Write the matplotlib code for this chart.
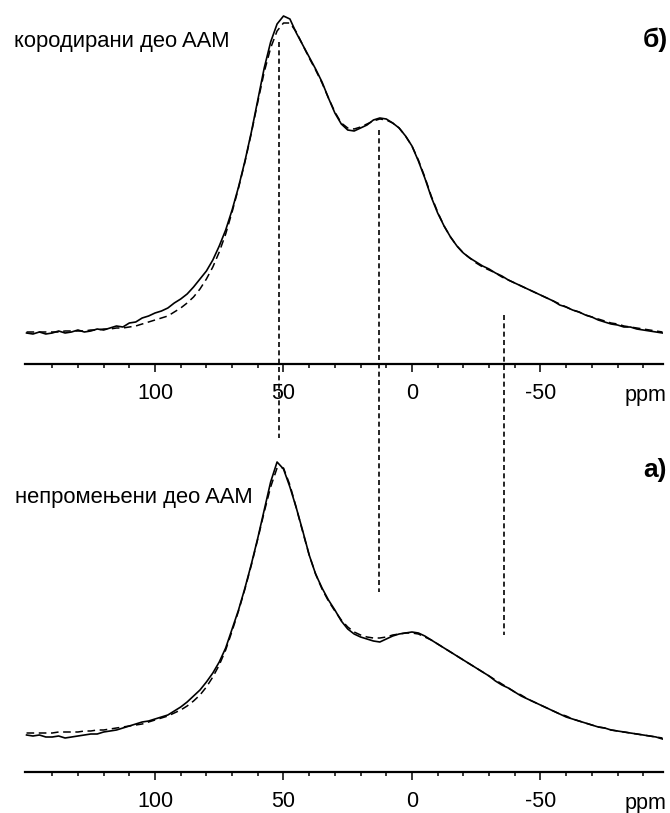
import numpy as np
import matplotlib
matplotlib.use("Agg")
import matplotlib.pyplot as plt
from matplotlib import transforms

plt.rcParams['font.family'] = ['Liberation Sans', 'DejaVu Sans']

# chemical shift grid (ppm), 150 -> -97.5 in 2.5 ppm steps
ppm = np.arange(150, -100, -2.5)

# top panel (б) corroded part: experimental (solid) and fitted (dashed), a.u.
top_exp = [31, 30, 32, 30, 31, 33, 31, 32, 34, 32, 33, 35, 34, 36, 38, 37, 41, 42, 46, 48,
           51, 53, 56, 61, 65, 70, 77, 85, 93, 104, 118, 134, 154, 177, 203, 232, 264, 296, 322, 340,
           348, 345, 331, 319, 307, 295, 282, 266, 251, 240, 234, 233, 236, 239, 244, 246, 245, 241, 236, 228,
           218, 203, 186, 167, 151, 138, 127, 118, 111, 106, 102, 98, 95, 91, 88, 84, 81, 78, 75, 72,
           69, 66, 63, 59, 57, 54, 52, 49, 47, 44, 42, 40, 39, 37, 37, 35, 34, 33, 32, 31]
top_fit = [32, 32, 32, 32, 32, 32, 33, 33, 33, 33, 34, 34, 35, 35, 36, 36, 37, 38, 40, 42,
           44, 46, 48, 52, 56, 61, 67, 75, 85, 97, 112, 130, 152, 176, 202, 231, 262, 292, 316, 333,
           341, 341, 332, 319, 306, 294, 281, 266, 252, 241, 236, 235, 237, 240, 243, 245, 244, 241, 236, 228,
           218, 204, 187, 168, 152, 138, 127, 118, 111, 106, 101, 97, 94, 91, 87, 84, 81, 78, 75, 72,
           69, 66, 63, 60, 57, 54, 52, 49, 47, 45, 43, 41, 40, 38, 37, 36, 35, 34, 33, 32]

# bottom panel (а) unaltered part: experimental (solid) and fitted (dashed), a.u.
bot_exp = [37, 36, 37, 35, 35, 36, 34, 35, 36, 37, 38, 38, 40, 41, 42, 44, 46, 48, 50, 51,
           53, 55, 57, 61, 65, 70, 76, 82, 90, 99, 110, 124, 143, 162, 184, 208, 234, 262, 290, 310,
           303, 285, 264, 241, 217, 198, 184, 172, 162, 151, 143, 138, 135, 133, 131, 130, 133, 136, 138, 139,
           140, 139, 136, 132, 128, 124, 120, 116, 112, 108, 104, 100, 96, 91, 87, 84, 80, 76, 73, 70,
           67, 64, 61, 58, 55, 53, 51, 49, 47, 45, 44, 42, 41, 40, 39, 38, 37, 36, 35, 33]
bot_fit = [39, 39, 39, 39, 39, 40, 40, 40, 40, 41, 41, 42, 42, 43, 44, 45, 46, 47, 48, 50,
           52, 54, 56, 59, 62, 66, 71, 77, 85, 95, 107, 122, 141, 161, 183, 207, 233, 260, 285, 304,
           304, 287, 264, 240, 217, 198, 183, 171, 161, 152, 145, 140, 137, 135, 134, 134, 135, 137, 138, 139,
           139, 138, 135, 132, 128, 124, 120, 116, 112, 108, 104, 100, 96, 92, 88, 84, 80, 77, 73, 70,
           67, 64, 61, 58, 56, 53, 51, 49, 47, 45, 44, 42, 41, 40, 39, 38, 37, 36, 35, 34]

# marker shifts (ppm)
marker_ppm = [51.7, 12.8, -36.0]

major_ticks = [100, 50, 0, -50]
minor_ticks = [140, 130, 120, 110, 90, 80, 70, 60, 40, 30, 20, 10, -10, -20, -30, -40, -60, -70, -80, -90]
panel_titles = ["кородирани део AAM", "непромењени део AAM"]
panel_letters = ["б)", "а)"]

W, H = 670, 813
fig = plt.figure(figsize=(W / 100, H / 100), dpi=100)

def px_axes(x0, x1, ytop, ybot):
    return fig.add_axes([x0 / W, 1 - ybot / H, (x1 - x0) / W, (ybot - ytop) / H])

ax_top = px_axes(25, 663, 0, 364)
ax_bot = px_axes(25, 663, 420, 772)

for ax, exp, fit in [(ax_top, top_exp, top_fit), (ax_bot, bot_exp, bot_fit)]:
    ax.plot(ppm, exp, color='black', lw=1.2, solid_joinstyle='round')
    ax.plot(ppm, fit, color='black', lw=1.1, ls=(0, (5, 3)))
    ax.set_xlim(150.6, -97.7)
    bb = ax.get_position()
    ax.set_ylim(0, bb.height * H)
    for s in ['top', 'left', 'right']:
        ax.spines[s].set_visible(False)
    ax.spines['bottom'].set_linewidth(1.6)
    ax.set_yticks([])
    ax.set_xticks(major_ticks)
    ax.set_xticks(minor_ticks, minor=True)
    ax.set_xticklabels([str(t) for t in major_ticks])
    ax.tick_params(axis='x', which='major', direction='out', length=6, width=1.1,
                   labelsize=15.5, pad=8)
    ax.tick_params(axis='x', which='minor', direction='out', length=3, width=1.1)
    ax.patch.set_alpha(0)
    ax.annotate('ppm', xy=(-90.7, 0), xycoords=('data', 'axes fraction'),
                xytext=(0, -21), textcoords='offset pixels', ha='center', va='top',
                fontsize=15.5, annotation_clip=False)

# dashed marker lines spanning both panels
tr = transforms.blended_transform_factory(ax_top.transData, fig.transFigure)
spans = [(42, 438), (130, 592), (315, 635)]
for x, (y0, y1) in zip(marker_ppm, spans):
    line = plt.Line2D([x, x], [1 - y0 / H, 1 - y1 / H], transform=tr, color='black',
                      lw=1.2, ls=(0, (3, 2)))
    fig.add_artist(line)

fig.text(14 / W, 1 - 42 / H, panel_titles[0], fontsize=15.8, ha='left', va='center')
fig.text(15 / W, 1 - 497 / H, panel_titles[1], fontsize=15.8, ha='left', va='center')
fig.text(668 / W, 1 - 40 / H, panel_letters[0], fontsize=19, fontweight='bold', ha='right', va='center')
fig.text(667 / W, 1 - 470 / H, panel_letters[1], fontsize=19, fontweight='bold', ha='right', va='center')

fig.savefig('out.png', dpi=100)
